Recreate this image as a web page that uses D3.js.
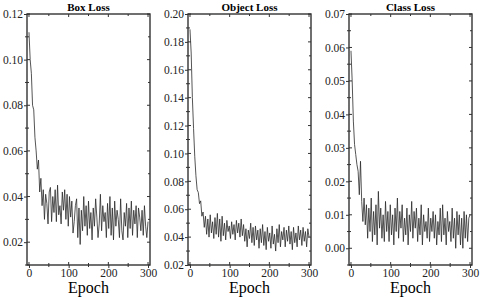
<!DOCTYPE html>
<meta charset="utf-8">
<style>
    body { margin: 0; background: #fff; }
    svg { font-family: "Liberation Serif", "Times New Roman", serif; }
    .title { font-weight: bold; font-size: 11px; }
    .xlabel { font-size: 16px; }
    .axis text { font-size: 11.5px; font-family: "Liberation Serif", serif; fill: #222; }
    .axis path, .axis line { stroke: #333; }
    .loss { fill: none; stroke: #2a2a2a; stroke-width: 0.8; }
</style>
<svg width="480" height="298"></svg>
<script src="https://d3js.org/d3.v7.min.js"></script>
<script>

    // epochs sampled every 3
    var epochs = d3.range(0, 301, 3);

    var boxLoss = [
        0.112, 0.100, 0.094, 0.080, 0.078, 0.066, 0.060, 0.052, 0.056, 0.042,
        0.048, 0.036, 0.043, 0.030, 0.041, 0.037, 0.028, 0.042, 0.044, 0.029,
        0.040, 0.033, 0.043, 0.029, 0.045, 0.032, 0.036, 0.028, 0.042, 0.034,
        0.043, 0.030, 0.041, 0.027, 0.040, 0.031, 0.038, 0.024, 0.029, 0.036,
        0.039, 0.022, 0.035, 0.019, 0.034, 0.025, 0.040, 0.027, 0.036, 0.023,
        0.038, 0.026, 0.033, 0.021, 0.035, 0.027, 0.039, 0.031, 0.022, 0.028,
        0.041, 0.025, 0.036, 0.029, 0.033, 0.022, 0.037, 0.026, 0.040, 0.023,
        0.035, 0.021, 0.038, 0.027, 0.034, 0.030, 0.022, 0.039, 0.025, 0.021,
        0.033, 0.027, 0.037, 0.022, 0.035, 0.026, 0.038, 0.023, 0.034, 0.028,
        0.036, 0.022, 0.035, 0.031, 0.025, 0.034, 0.023, 0.036, 0.027, 0.022,
        0.029
    ];

    var objectLoss = [
        0.189, 0.172, 0.140, 0.118, 0.098, 0.084, 0.074, 0.072, 0.064, 0.066,
        0.055, 0.058, 0.047, 0.055, 0.042, 0.053, 0.040, 0.056, 0.043, 0.051,
        0.039, 0.054, 0.042, 0.057, 0.040, 0.053, 0.037, 0.055, 0.041, 0.050,
        0.038, 0.052, 0.044, 0.048, 0.039, 0.051, 0.042, 0.049, 0.038, 0.052,
        0.043, 0.050, 0.040, 0.053, 0.041, 0.049, 0.037, 0.046, 0.033, 0.045,
        0.039, 0.050, 0.036, 0.047, 0.034, 0.048, 0.038, 0.045, 0.032, 0.046,
        0.036, 0.049, 0.034, 0.044, 0.031, 0.047, 0.037, 0.043, 0.032, 0.048,
        0.035, 0.042, 0.030, 0.046, 0.036, 0.049, 0.033, 0.044, 0.038, 0.047,
        0.033, 0.045, 0.037, 0.048, 0.035, 0.044, 0.031, 0.047, 0.036, 0.043,
        0.033, 0.048, 0.038, 0.045, 0.034, 0.047, 0.037, 0.044, 0.033, 0.046,
        0.040
    ];

    var classLoss = [
        0.059, 0.050, 0.038, 0.031, 0.028, 0.025, 0.023, 0.016, 0.026, 0.014,
        0.008, 0.015, 0.007, 0.013, 0.003, 0.012, 0.005, 0.015, 0.002, 0.011,
        0.004, 0.013, 0.001, 0.017, 0.006, 0.012, 0.003, 0.010, 0.002, 0.014,
        0.005, 0.011, 0.002, 0.013, 0.004, 0.010, 0.001, 0.012, 0.005, 0.015,
        0.003, 0.011, 0.006, 0.013, 0.002, 0.009, 0.004, 0.012, 0.001, 0.010,
        0.005, 0.014, 0.003, 0.011, 0.006, 0.012, 0.002, 0.009, 0.004, 0.013,
        0.001, 0.010, 0.005, 0.008, 0.003, 0.012, 0.002, 0.009, 0.005, 0.011,
        0.003, 0.010, 0.001, 0.008, 0.004, 0.012, 0.002, 0.013, 0.004, 0.009,
        0.001, 0.011, 0.005, 0.008, 0.002, 0.012, 0.003, 0.009, 0.000, 0.011,
        0.004, 0.010, 0.001, 0.009, 0.000, 0.011, 0.003, 0.010, 0.002, 0.009,
        0.010
    ];

    var xTicks = [0, 100, 200, 300];
    var xMinor = [0, 50, 100, 150, 200, 250, 300];

    var panels = [
        {title: "Box Loss", values: boxLoss, left: 27, right: 150,
         yDomain: [0.01, 0.12], yTicks: [0.02, 0.04, 0.06, 0.08, 0.10, 0.12],
         yMinor: [0.01, 0.02, 0.03, 0.04, 0.05, 0.06, 0.07, 0.08, 0.09, 0.10, 0.11, 0.12]},
        {title: "Object Loss", values: objectLoss, left: 188, right: 311,
         yDomain: [0.02, 0.20], yTicks: [0.02, 0.04, 0.06, 0.08, 0.10, 0.12, 0.14, 0.16, 0.18, 0.20],
         yMinor: [0.02, 0.03, 0.04, 0.05, 0.06, 0.07, 0.08, 0.09, 0.10, 0.11, 0.12, 0.13, 0.14, 0.15, 0.16, 0.17, 0.18, 0.19, 0.20]},
        {title: "Class Loss", values: classLoss, left: 349, right: 472,
         yDomain: [-0.005, 0.07], yTicks: [0.00, 0.01, 0.02, 0.03, 0.04, 0.05, 0.06, 0.07],
         yMinor: [-0.005, 0.00, 0.005, 0.01, 0.015, 0.02, 0.025, 0.03, 0.035, 0.04, 0.045, 0.05, 0.055, 0.06, 0.065, 0.07]}
    ];

    var svg = d3.select("svg"),
        plotTop = 14,
        plotBottom = 265;

    function isMajor(list, d) {
        return list.some(function(t) { return Math.abs(t - d) < 1e-6; });
    }

    panels.forEach(function(p) {
        var x = d3.scaleLinear().domain([-5, 305]).range([p.left, p.right]),
            y = d3.scaleLinear().domain(p.yDomain).range([plotBottom, plotTop]);

        var g = svg.append("g");

        // data line
        var line = d3.line()
            .x(function(d, i) { return x(epochs[i]); })
            .y(function(d) { return y(d); });

        g.append("path")
            .datum(p.values)
            .attr("class", "loss")
            .attr("d", line);

        // frame
        g.append("rect")
            .attr("x", p.left).attr("y", plotTop)
            .attr("width", p.right - p.left).attr("height", plotBottom - plotTop)
            .attr("fill", "none").attr("stroke", "#333").attr("stroke-width", 1.4);

        // left axis labels
        g.append("g")
            .attr("class", "axis")
            .attr("transform", "translate(" + p.left + ",0)")
            .call(d3.axisLeft(y).tickValues(p.yTicks).tickFormat(d3.format(".2f")).tickSize(3).tickPadding(1))
            .call(function(a) { a.select(".domain").remove(); });

        // left ticks inner part / minor ticks crossing
        g.append("g").selectAll("line")
            .data(p.yMinor)
            .join("line")
            .attr("x1", function(d) { return isMajor(p.yTicks, d) ? p.left : p.left - 2; })
            .attr("x2", function(d) { return isMajor(p.yTicks, d) ? p.left + 3 : p.left + 2; })
            .attr("y1", y).attr("y2", y)
            .attr("stroke", "#333");

        // right side ticks inward
        g.append("g").selectAll("line")
            .data(p.yMinor)
            .join("line")
            .attr("x1", p.right)
            .attr("x2", function(d) { return isMajor(p.yTicks, d) ? p.right - 3 : p.right - 2; })
            .attr("y1", y).attr("y2", y)
            .attr("stroke", "#333");

        // bottom axis
        g.append("g")
            .attr("class", "axis")
            .attr("transform", "translate(0," + plotBottom + ")")
            .call(d3.axisBottom(x).tickValues(xTicks).tickSize(3).tickPadding(1))
            .call(function(a) { a.select(".domain").remove(); });

        g.append("g").selectAll("line")
            .data(xMinor)
            .join("line")
            .attr("x1", x).attr("x2", x)
            .attr("y1", function(d) { return d % 100 === 0 ? plotBottom - 3 : plotBottom - 2; })
            .attr("y2", function(d) { return d % 100 === 0 ? plotBottom : plotBottom + 2; })
            .attr("stroke", "#333");

        // top ticks inward
        g.append("g").selectAll("line")
            .data(xMinor)
            .join("line")
            .attr("x1", x).attr("x2", x)
            .attr("y1", plotTop)
            .attr("y2", function(d) { return d % 100 === 0 ? plotTop + 3 : plotTop + 2; })
            .attr("stroke", "#333");

        g.append("text")
            .attr("class", "title")
            .attr("x", (p.left + p.right) / 2)
            .attr("y", 11)
            .attr("text-anchor", "middle")
            .text(p.title);

        g.append("text")
            .attr("class", "xlabel")
            .attr("x", (p.left + p.right) / 2)
            .attr("y", 293)
            .attr("text-anchor", "middle")
            .text("Epoch");
    });

</script>
